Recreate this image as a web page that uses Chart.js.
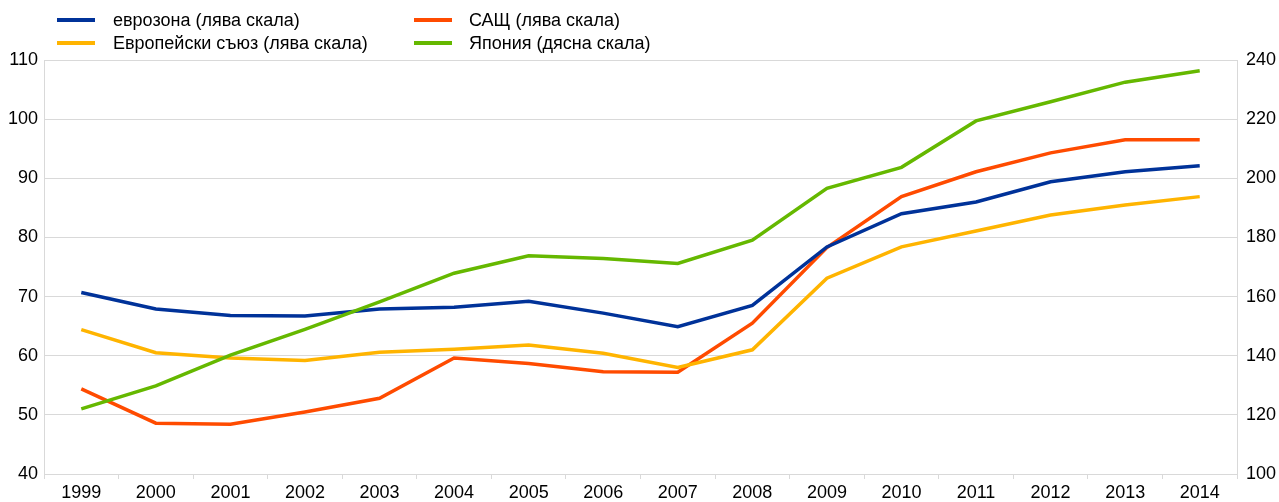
<!DOCTYPE html>
<html>
<head>
<meta charset="utf-8">
<script src="https://cdn.jsdelivr.net/npm/chart.js@4/dist/chart.umd.min.js"></script>
<style>
  html, body { margin: 0; padding: 0; background: #fff; }
  #wrap { position: relative; width: 1279px; height: 502px; }
  #chart { position: absolute; left: 0; top: 0; }
  .key { position: absolute; font: 18px 'Liberation Sans', Arial, sans-serif; color: #000; white-space: nowrap; line-height: 20px; height: 20px; }
  .key i { position: absolute; left: 0; top: 8px; width: 38px; height: 4px; }
  .key span { position: absolute; top: 0; }
</style>
</head>
<body>
<div id="wrap">
  <canvas id="chart" width="1279" height="502"></canvas>
  <div id="legend"></div>
</div>
<script>
// Years on the horizontal axis
const years = ['1999','2000','2001','2002','2003','2004','2005','2006','2007','2008','2009','2010','2011','2012','2013','2014'];

// Series on the left scale
const euroArea = [70.7, 67.9, 66.8, 66.7, 67.9, 68.2, 69.2, 67.2, 64.9, 68.5, 78.4, 84.0, 86.0, 89.4, 91.1, 92.1];
const eu       = [64.4, 60.5, 59.6, 59.2, 60.6, 61.1, 61.8, 60.4, 58.0, 61.0, 73.1, 78.4, 81.1, 83.8, 85.5, 86.9];
const usa      = [54.4, 48.6, 48.4, 50.5, 52.8, 59.6, 58.7, 57.3, 57.2, 65.5, 78.3, 86.9, 91.1, 94.3, 96.5, 96.5];

// Series on the right scale
const japan    = [122.0, 129.8, 140.2, 148.9, 158.2, 167.9, 173.8, 172.9, 171.2, 179.1, 196.6, 203.7, 219.4, 225.9, 232.5, 236.4];

// Series names
const names = ['еврозона (лява скала)', 'Европейски съюз (лява скала)', 'САЩ (лява скала)', 'Япония (дясна скала)'];

const colors = { blue: '#003299', yellow: '#FFB400', orange: '#FF4B00', green: '#65B800' };
const gridColor = '#d9d9d9';

// Two-column legend above the plot
const legendItems = [
  { label: names[0], color: colors.blue,   x: 57,  tx: 113, y: 10 },
  { label: names[1], color: colors.yellow, x: 57,  tx: 113, y: 33 },
  { label: names[2], color: colors.orange, x: 414, tx: 469, y: 10 },
  { label: names[3], color: colors.green,  x: 414, tx: 469, y: 33 }
];
const legendEl = document.getElementById('legend');
legendItems.forEach(it => {
  const d = document.createElement('div');
  d.className = 'key';
  d.style.left = it.x + 'px';
  d.style.top = it.y + 'px';
  const line = document.createElement('i');
  line.style.background = it.color;
  const txt = document.createElement('span');
  txt.style.left = (it.tx - it.x) + 'px';
  txt.textContent = it.label;
  d.appendChild(line);
  d.appendChild(txt);
  legendEl.appendChild(d);
});

Chart.defaults.font.family = "'Liberation Sans', Arial, sans-serif";
Chart.defaults.font.size = 18;
Chart.defaults.color = '#000';

function series(label, data, color, axis) {
  return {
    label, data, yAxisID: axis,
    borderColor: color, backgroundColor: color,
    borderWidth: 3.5, pointRadius: 0, pointHoverRadius: 0,
    tension: 0, fill: false
  };
}

new Chart(document.getElementById('chart'), {
  type: 'line',
  data: {
    labels: years,
    datasets: [
      series(names[3], japan, colors.green, 'yR'),
      series(names[1], eu, colors.yellow, 'yL'),
      series(names[0], euroArea, colors.blue, 'yL'),
      series(names[2], usa, colors.orange, 'yL')
    ]
  },
  options: {
    responsive: false,
    animation: false,
    events: [],
    layout: { padding: { top: 60, left: 0, right: 0, bottom: 0 } },
    plugins: { legend: { display: false }, tooltip: { enabled: false } },
    scales: {
      x: {
        offset: true,
        grid: { offset: true, drawOnChartArea: false, drawTicks: true, tickLength: 5, color: gridColor },
        border: { color: gridColor },
        ticks: { padding: 3, maxRotation: 0, autoSkip: false },
        afterFit: s => { s.height = 28; }
      },
      yL: {
        position: 'left',
        min: 40, max: 110,
        grid: { color: gridColor, drawTicks: false },
        border: { color: gridColor },
        ticks: { stepSize: 10, padding: 6 },
        afterFit: s => { s.width = 44; }
      },
      yR: {
        position: 'right',
        min: 100, max: 240,
        grid: { drawOnChartArea: false, drawTicks: false },
        border: { color: gridColor },
        ticks: { stepSize: 20, padding: 9 },
        afterFit: s => { s.width = 42; }
      }
    }
  }
});
</script>
</body>
</html>
